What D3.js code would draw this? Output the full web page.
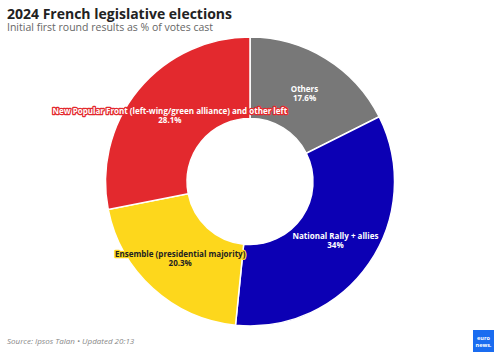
<!DOCTYPE html>
<html>
<head>
<meta charset="utf-8">
<script src="https://cdn.jsdelivr.net/npm/d3@7"></script>
<style>
  body { margin: 0; background: #fff; }
  text { font-family: "Open Sans", sans-serif; }
</style>
</head>
<body>
<div id="chart"></div>
<script>
var width = 500;
var height = 361;

var parties = ['Others', 'National Rally + allies', 'Ensemble (presidential majority)', 'New Popular Front (left-wing/green alliance) and other left'];
var shares = [17.6, 34, 20.3, 28.1];
var shareLabels = ['17.6%', '34%', '20.3%', '28.1%'];
var colors = ['#787878', '#0c00b4', '#fdd71c', '#e3292e'];
var textColors = ['#fff', '#fff', '#222', '#fff'];

var data = parties.map((p, i) => ({name: p, value: shares[i], label: shareLabels[i], color: colors[i], text: textColors[i]}));

var svg = d3.select('#chart')
    .append('svg')
    .attr('width', width)
    .attr('height', height);

svg.append('text')
    .attr('x', 7)
    .attr('y', 19)
    .attr('font-size', 14)
    .attr('font-weight', 'bold')
    .attr('fill', '#222')
    .text('2024 French legislative elections');

svg.append('text')
    .attr('x', 7)
    .attr('y', 31)
    .attr('font-size', 10.5)
    .attr('fill', '#666')
    .text('Initial first round results as % of votes cast');

var outer = 144.5;
var inner = 63;

var pie = d3.pie()
    .sort(null)
    .value(d => d.value);

var arc = d3.arc()
    .innerRadius(inner)
    .outerRadius(outer);

var g = svg.append('g')
    .attr('transform', 'translate(250,181.5)');

var arcs = pie(data);

g.selectAll('path')
    .data(arcs)
    .enter()
    .append('path')
    .attr('d', arc)
    .attr('fill', d => d.data.color)
    .attr('stroke', '#fff')
    .attr('stroke-width', 1.5);

// halo drawn under the fill with paint-order
var labels = g.selectAll('g.lbl')
    .data(arcs)
    .enter()
    .append('g')
    .attr('class', 'lbl')
    .attr('transform', d => `translate(${arc.centroid(d)})`);

[['name', -1.5], ['label', 7.5]].forEach(function(row) {
    labels.append('text')
        .attr('text-anchor', 'middle')
        .attr('y', row[1])
        .attr('font-size', 8)
        .attr('font-weight', 'bold')
        .attr('fill', d => d.data.text)
        .attr('stroke', d => d.data.color)
        .attr('stroke-width', 2.5)
        .attr('stroke-linejoin', 'round')
        .style('paint-order', 'stroke')
        .text(d => d.data[row[0]]);
});

svg.append('text')
    .attr('x', 7)
    .attr('y', 344)
    .attr('font-size', 8)
    .attr('font-style', 'italic')
    .attr('fill', '#888')
    .text('Source: Ipsos Talan • Updated 20:13');

var logo = svg.append('g')
    .attr('transform', 'translate(473,330)');
logo.append('rect')
    .attr('width', 21)
    .attr('height', 22)
    .attr('fill', '#1a6cf0');
logo.append('text')
    .attr('x', 10.5)
    .attr('y', 10)
    .attr('text-anchor', 'middle')
    .attr('font-size', 5.5)
    .attr('font-weight', 'bold')
    .attr('fill', '#fff')
    .text('euro');
logo.append('text')
    .attr('x', 10.5)
    .attr('y', 16.5)
    .attr('text-anchor', 'middle')
    .attr('font-size', 5.5)
    .attr('font-weight', 'bold')
    .attr('fill', '#fff')
    .text('news.');
</script>
</body>
</html>
